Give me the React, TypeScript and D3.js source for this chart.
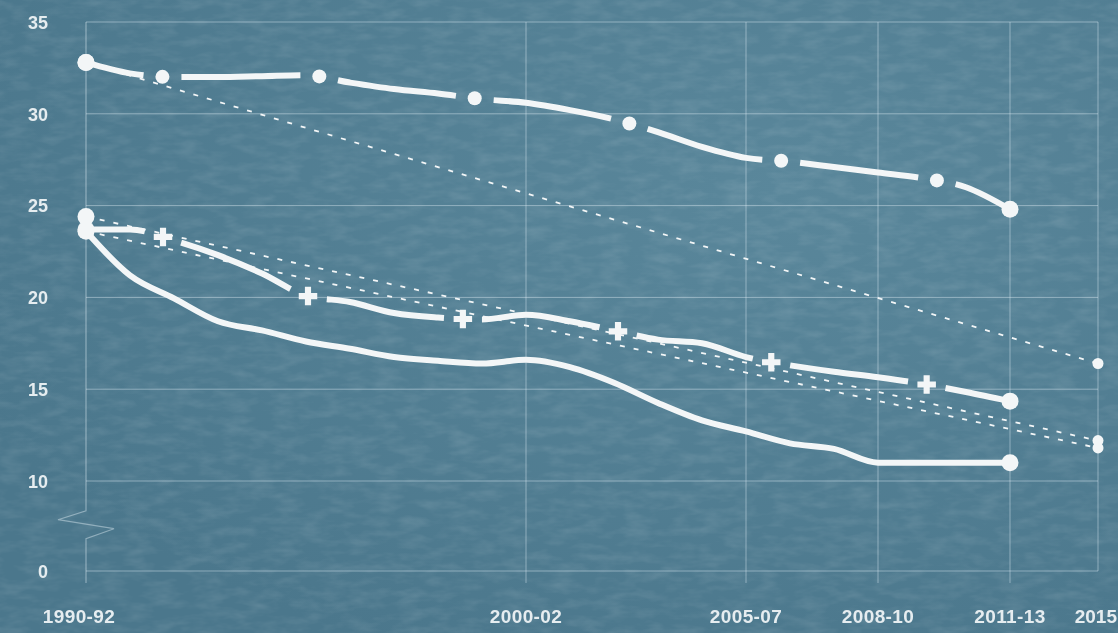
import React, { useLayoutEffect, useRef, useState } from "react";
import * as d3 from "d3";

// 3-year periods, plotted at their middle year
const years = [
  1991, 1992, 1993, 1994, 1995, 1996, 1997, 1998, 1999, 2000, 2001,
  2002, 2003, 2004, 2005, 2006, 2007, 2008, 2009, 2010, 2011, 2012,
];

const topSeries = [
  32.8, 32.2, 32.0, 32.0, 32.05, 32.1, 31.7, 31.35, 31.1, 30.8, 30.6,
  30.2, 29.7, 29.0, 28.2, 27.6, 27.4, 27.1, 26.8, 26.5, 26.0, 24.8,
];
const crossSeries = [
  23.7, 23.7, 23.1, 22.3, 21.3, 20.1, 19.75, 19.15, 18.9, 18.8, 19.05,
  18.7, 18.2, 17.7, 17.5, 16.75, 16.3, 15.95, 15.65, 15.3, 14.85, 14.35,
];
const solidSeries = [
  23.6, 21.2, 19.95, 18.7, 18.2, 17.6, 17.2, 16.75, 16.55, 16.4, 16.6,
  16.2, 15.35, 14.25, 13.3, 12.7, 12.05, 11.75, 11.0, 11.0, 11.0, 11.0,
];

// dotted target lines: start value -> value at 2015
const targetYear = 2014;
const targets = [
  { from: 32.8, to: 16.4 },
  { from: 24.4, to: 12.2 },
  { from: 23.6, to: 11.8 },
];

const xTicks = [1991, 2001, 2006, 2009, 2012, 2014];
const xTickLabels = ["1990-92", "2000-02", "2005-07", "2008-10", "2011-13", "2015"];
const yTicks = [0, 10, 15, 20, 25, 30, 35];

const W = 1118;
const H = 633;
const INK = "#f3f6f7";
const GRID = "rgba(225,238,245,0.45)";
const FONT = "'Liberation Sans', Arial, Helvetica, sans-serif";

const x = d3.scaleLinear().domain([1991, 2014]).range([86, 1098]);
// broken axis: 0..10 squeezed
const y = d3.scaleLinear().domain([0, 10, 35]).range([571, 481, 22]);

const line = d3
  .line<number>()
  .x((_, i) => x(years[i]))
  .y((v) => y(v))
  .curve(d3.curveMonotoneX);

const STEP = 157;
const FIRST = 78;
const GAP = 38;

function MarkedLine({ values, kind }: { values: number[]; kind: "circle" | "cross" }) {
  const ref = useRef<SVGPathElement>(null);
  const [marks, setMarks] = useState<{ x: number; y: number }[]>([]);
  const d = line(values) || "";

  useLayoutEffect(() => {
    const p = ref.current;
    if (!p) return;
    const L = p.getTotalLength();
    const pts: { x: number; y: number }[] = [];
    for (let s = FIRST; s < L - 40; s += STEP) {
      const pt = p.getPointAtLength(s);
      pts.push({ x: pt.x, y: pt.y });
    }
    setMarks(pts);
  }, [d]);

  const cross = d3.symbol(d3.symbolCross, 190)() || "";
  const last = values.length - 1;

  return (
    <g>
      <path
        ref={ref}
        d={d}
        fill="none"
        stroke={INK}
        strokeWidth={6}
        strokeLinejoin="round"
        strokeDasharray={`${STEP - GAP} ${GAP}`}
        strokeDashoffset={STEP - GAP / 2 - FIRST}
      />
      {marks.map((m, i) =>
        kind === "circle" ? (
          <circle key={i} cx={m.x} cy={m.y} r={7} fill={INK} />
        ) : (
          <path key={i} d={cross} transform={`translate(${m.x},${m.y})`} fill={INK} />
        )
      )}
      <circle cx={x(years[0])} cy={y(values[0])} r={8.5} fill={INK} />
      <circle cx={x(years[last])} cy={y(values[last])} r={8.5} fill={INK} />
    </g>
  );
}

export default function App() {
  const x0 = x(xTicks[0]);
  const xEnd = x(xTicks[xTicks.length - 1]);
  const yTop = y(35);
  const yBottom = y(0);
  const lastTick = xTicks.length - 1;

  return (
    <svg
      width={W}
      height={H}
      style={{ position: "fixed", left: 0, top: 0, display: "block" }}
      fontFamily={FONT}
    >
      <defs>
        <filter id="tex" x="0" y="0" width="100%" height="100%">
          <feTurbulence type="fractalNoise" baseFrequency="0.04 0.11" numOctaves={3} seed={7} />
          <feColorMatrix
            type="matrix"
            values="0 0 0 0 1  0 0 0 0 1  0 0 0 0 1  0 0 0 -1.8 1.1"
          />
        </filter>
        <radialGradient id="glow" cx="0.7" cy="0.3" r="0.8">
          <stop offset="0" stopColor="#5a879b" />
          <stop offset="1" stopColor="#4b778c" />
        </radialGradient>
      </defs>
      <rect width={W} height={H} fill="url(#glow)" />
      <rect width={W} height={H} filter="url(#tex)" opacity={0.1} />

      {/* horizontal grid */}
      {yTicks.map((t) => (
        <line key={`h${t}`} x1={x0} x2={xEnd} y1={y(t)} y2={y(t)} stroke={GRID} strokeWidth={1} />
      ))}

      {/* vertical grid */}
      {xTicks.slice(1).map((t, i) => (
        <line
          key={`v${t}`}
          x1={x(t)}
          x2={x(t)}
          y1={yTop}
          y2={i === xTicks.length - 2 ? yBottom : yBottom + 12}
          stroke={GRID}
          strokeWidth={1}
        />
      ))}

      {/* y axis with break */}
      <path
        d={`M${x0},${yTop}V${y(6.7)}L${x0 - 28},${y(5.7)}L${x0 + 28},${y(4.7)}L${x0},${y(3.6)}V${yBottom + 12}`}
        fill="none"
        stroke={GRID}
        strokeWidth={1.2}
      />

      {/* y labels */}
      {yTicks.map((t) => (
        <text
          key={`yl${t}`}
          x={48}
          y={y(t) + 2}
          textAnchor="end"
          dominantBaseline="middle"
          fontSize={18}
          fontWeight="bold"
          fill="#e6edf0"
        >
          {t}
        </text>
      ))}

      {/* x labels */}
      {xTicks.map((t, i) => (
        <text
          key={`xl${t}`}
          x={i === 0 ? x(t) - 7 : i === lastTick ? W - 1 : x(t)}
          y={623}
          textAnchor={i === lastTick ? "end" : "middle"}
          fontSize={19}
          fontWeight="bold"
          letterSpacing={i === lastTick ? 0 : 0.4}
          fill="#e6edf0"
        >
          {xTickLabels[i]}
        </text>
      ))}

      {/* target lines */}
      {targets.map((tg, i) => (
        <g key={`t${i}`}>
          <line
            x1={x(years[0])}
            y1={y(tg.from)}
            x2={x(targetYear)}
            y2={y(tg.to)}
            stroke={INK}
            strokeWidth={1.8}
            strokeDasharray="5 9"
          />
          <circle cx={x(targetYear)} cy={y(tg.to)} r={5.5} fill={INK} />
          <circle cx={x(years[0])} cy={y(tg.from)} r={8.5} fill={INK} />
        </g>
      ))}

      {/* solid series */}
      <path
        d={line(solidSeries) || ""}
        fill="none"
        stroke={INK}
        strokeWidth={6}
        strokeLinejoin="round"
      />
      <circle cx={x(years[years.length - 1])} cy={y(solidSeries[solidSeries.length - 1])} r={8.5} fill={INK} />

      <MarkedLine values={crossSeries} kind="cross" />
      <MarkedLine values={topSeries} kind="circle" />
    </svg>
  );
}
